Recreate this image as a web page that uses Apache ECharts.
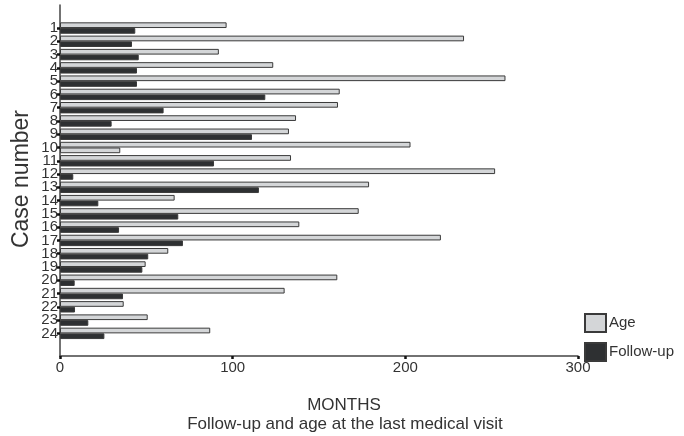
<!DOCTYPE html>
<html>
<head>
<meta charset="utf-8">
<script src="https://cdn.jsdelivr.net/npm/echarts@6/dist/echarts.min.js"></script>
<style>
html,body{margin:0;padding:0;background:#fff;}
#chart{width:684px;height:436px;}
</style>
</head>
<body>
<div id="chart"></div>
<script>
// ---- data ----
var cases = ['1','2','3','4','5','6','7','8','9','10','11','12','13','14','15','16','17','18','19','20','21','22','23','24'];
var ageMonths = [96.5,234,92,123.5,258,162,161,136.7,132.6,203,133.8,252,179,66.4,173,138.6,220.6,62.7,49.6,160.6,130.1,36.9,50.8,87];
var followUpMonths = [43.6,41.7,45.6,44.6,44.6,118.9,60,29.9,111.2,34.9,89.2,7.7,115.2,22.2,68.5,34.2,71.2,51.1,47.7,8.5,36.5,8.7,16.4,25.7];
var xTicks = [0, 100, 200, 300];
var followUpDrawnLight = ['10']; // in the reference this follow-up bar is drawn in the Age shade

var ageFill = '#d4d6d8', fuFill = '#2e3032', edge = '#3a3a3a';

var fuData = followUpMonths.map(function (v, i) {
  if (followUpDrawnLight.indexOf(cases[i]) >= 0) {
    return { value: v, itemStyle: { color: ageFill } };
  }
  return v;
});

var chart = echarts.init(document.getElementById('chart'), null, { renderer: 'canvas' });
var font = 'Liberation Sans, Arial, sans-serif';
chart.setOption({
  animation: false,
  backgroundColor: '#fff',
  textStyle: { fontFamily: font },
  grid: [
    { left: 60, right: 106, top: 21.4, bottom: 96 },
    { left: 60, right: 106, top: 5, bottom: 80 }
  ],
  xAxis: [
    { type: 'value', gridIndex: 0, min: 0, max: 300, show: false },
    { type: 'value', gridIndex: 1, min: xTicks[0], max: xTicks[xTicks.length - 1], interval: 100,
      axisLine: { show: true, onZero: false, lineStyle: { color: '#444', width: 1.5 } },
      axisTick: { show: true, length: 3, inside: false, lineStyle: { color: '#111', width: 2.5 } },
      axisLabel: { color: '#333', fontSize: 15, margin: 4, fontFamily: font },
      splitLine: { show: false } }
  ],
  yAxis: [
    { type: 'category', gridIndex: 0, data: cases, inverse: true,
      axisLine: { show: false },
      axisTick: { show: true, alignWithLabel: true, interval: 0, length: 3, lineStyle: { color: '#111', width: 2.5 } },
      axisLabel: { color: '#333', fontSize: 15, margin: 2, interval: 0, fontFamily: font },
      splitLine: { show: false } },
    { type: 'value', gridIndex: 1, min: 0, max: 1,
      axisLine: { show: true, onZero: false, lineStyle: { color: '#444', width: 1.5 } },
      axisTick: { show: false }, axisLabel: { show: false }, splitLine: { show: false } }
  ],
  legend: {
    orient: 'vertical', left: 584, top: 313, itemWidth: 21, itemHeight: 18, itemGap: 9, padding: 0,
    icon: 'rect',
    textStyle: { fontSize: 15, color: '#333', fontFamily: font, padding: [0, 0, 0, -2] },
    data: ['Age', 'Follow-up']
  },
  series: [
    { name: 'Age', type: 'bar', xAxisIndex: 0, yAxisIndex: 0, data: ageMonths,
      barWidth: 5.7, barGap: '0%',
      itemStyle: { color: ageFill, borderColor: edge, borderWidth: 1 } },
    { name: 'Follow-up', type: 'bar', xAxisIndex: 0, yAxisIndex: 0, data: fuData,
      barWidth: 5.7, barGap: '0%',
      itemStyle: { color: fuFill, borderColor: edge, borderWidth: 1 } }
  ],
  graphic: [
    { type: 'text', x: 22, y: 179, rotation: Math.PI / 2,
      style: { text: 'Case number', fontSize: 23, fill: '#333', fontFamily: font, align: 'center', verticalAlign: 'middle' } },
    { type: 'text', x: 344, y: 405,
      style: { text: 'MONTHS', fontSize: 17, fill: '#333', fontFamily: font, align: 'center', verticalAlign: 'middle' } },
    { type: 'text', x: 345, y: 424,
      style: { text: 'Follow-up and age at the last medical visit', fontSize: 17, fill: '#333', fontFamily: font, align: 'center', verticalAlign: 'middle' } }
  ]
});
</script>
</body>
</html>
